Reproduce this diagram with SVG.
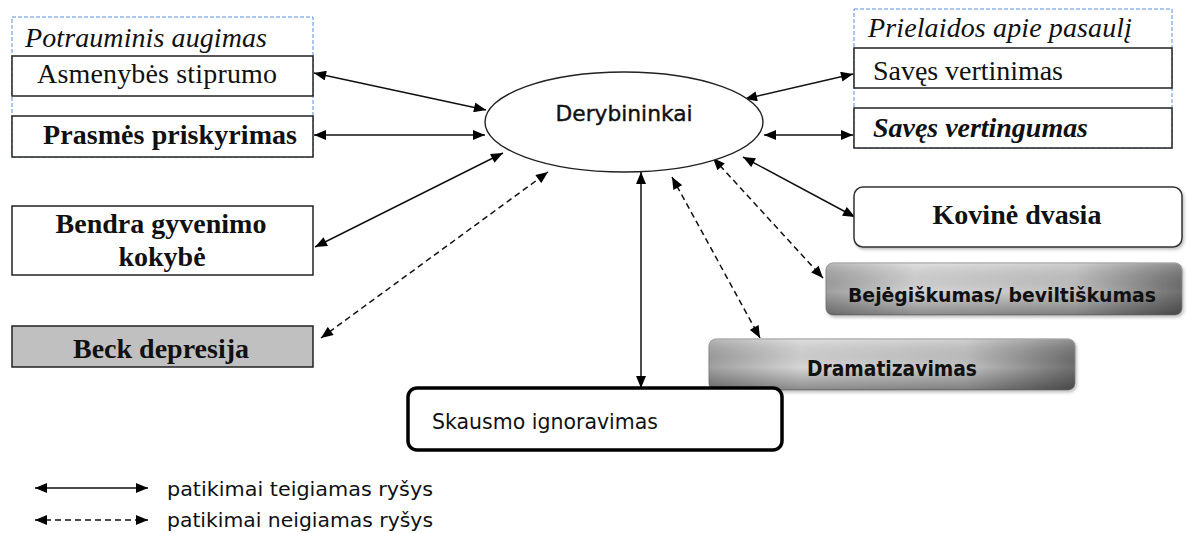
<svg xmlns="http://www.w3.org/2000/svg" width="1187" height="533" viewBox="0 0 1187 533">
  <style>
    .serif { font-family: "Liberation Serif", "Times New Roman", serif; fill: #111; font-size: 28px; }
    .sans { font-family: "DejaVu Sans", Verdana, sans-serif; fill: #111; }
    .box { fill: #fff; stroke: #222; stroke-width: 1.5; }
    .group { fill: none; stroke: #5a8fe0; stroke-width: 1; stroke-dasharray: 4 2; }
    .solid { fill: none; stroke: #111; stroke-width: 1.5; marker-start: url(#tip); marker-end: url(#tip); }
    .dashed { fill: none; stroke: #111; stroke-width: 1.5; stroke-dasharray: 6 4; marker-start: url(#tip); marker-end: url(#tip); }
  </style>
  <defs>
    <marker id="tip" viewBox="0 0 12 10" refX="12" refY="5" markerWidth="13" markerHeight="10" markerUnits="userSpaceOnUse" orient="auto-start-reverse">
      <path d="M0,0 L12,5 L0,10 z" fill="#000"/>
    </marker>
    <linearGradient id="metal" x1="0" y1="0" x2="1" y2="0">
      <stop offset="0" stop-color="#a0a0a0"/>
      <stop offset="0.25" stop-color="#d6d6d6"/>
      <stop offset="0.7" stop-color="#c2c2c2"/>
      <stop offset="1" stop-color="#6e6e6e"/>
    </linearGradient>
    <linearGradient id="shade" x1="0" y1="0" x2="0" y2="1">
      <stop offset="0" stop-color="#fff" stop-opacity="0.25"/>
      <stop offset="0.55" stop-color="#000" stop-opacity="0"/>
      <stop offset="1" stop-color="#000" stop-opacity="0.35"/>
    </linearGradient>
    <filter id="soft" x="-5%" y="-10%" width="115%" height="130%">
      <feDropShadow dx="1.5" dy="2" stdDeviation="1.5" flood-color="#000" flood-opacity="0.25"/>
    </filter>
  </defs>

  <!-- group frames -->
  <rect class="group" x="12" y="17" width="301" height="140"/>
  <rect class="group" x="854" y="9" width="318" height="139"/>
  <text class="serif" x="25" y="47" font-style="italic" textLength="242" lengthAdjust="spacing">Potrauminis augimas</text>
  <text class="serif" x="868" y="37" font-style="italic" textLength="264" lengthAdjust="spacing">Prielaidos apie pasaulį</text>

  <!-- connectors -->
  <g id="connectors">
    <path class="solid" d="M314,73 L486,110"/>
    <path class="solid" d="M314,135 L485,135" stroke-width="2.2"/>
    <path class="solid" d="M315,247 L503,153"/>
    <path class="dashed" d="M321,338 L548,172"/>
    <path class="solid" d="M745,99 L853,74"/>
    <path class="solid" d="M764,135 L853,135"/>
    <path class="solid" d="M743,157 L855,217"/>
    <path class="dashed" d="M713,158 L823,278"/>
    <path class="dashed" d="M672,177 L760,338"/>
    <path class="solid" d="M641,172 L641,388"/>
  </g>

  <g id="center">
    <ellipse cx="624" cy="122" rx="139" ry="50" fill="#fff" stroke="#222" stroke-width="1.4"/>
    <text class="sans" x="624" y="121" font-size="21" text-anchor="middle" stroke="#111" stroke-width="0.4" textLength="137" lengthAdjust="spacingAndGlyphs">Derybininkai</text>
  </g>

  <g id="asmenybes">
    <rect class="box" x="12" y="56" width="301" height="40"/>
    <text class="serif" x="37" y="83" textLength="240" lengthAdjust="spacing">Asmenybės stiprumo</text>
  </g>
  <g id="prasmes">
    <rect class="box" x="12" y="116" width="301" height="41"/>
    <text class="serif" x="43" y="144" font-weight="bold" textLength="254" lengthAdjust="spacing">Prasmės priskyrimas</text>
  </g>
  <g id="bendra">
    <rect class="box" x="12" y="206" width="301" height="69"/>
    <text class="serif" x="161" y="233" font-weight="bold" text-anchor="middle">Bendra gyvenimo</text>
    <text class="serif" x="162" y="266" font-weight="bold" text-anchor="middle">kokybė</text>
  </g>
  <g id="beck">
    <rect x="12" y="326" width="301" height="41" fill="#c0c0c0" stroke="#222" stroke-width="1.5"/>
    <text class="serif" x="161" y="358" font-weight="bold" text-anchor="middle">Beck depresija</text>
  </g>

  <g id="saves-vertinimas">
    <rect class="box" x="854" y="48" width="318" height="40"/>
    <text class="serif" x="873" y="80" textLength="190" lengthAdjust="spacing">Savęs vertinimas</text>
  </g>
  <g id="saves-vertingumas">
    <rect class="box" x="854" y="108" width="318" height="40"/>
    <text class="serif" x="873" y="137" font-weight="bold" font-style="italic" textLength="215" lengthAdjust="spacing">Savęs vertingumas</text>
  </g>
  <g id="kovine">
    <rect x="854" y="187" width="328" height="60" rx="9" fill="#fff" stroke="#333" stroke-width="1.5" filter="url(#soft)"/>
    <text class="serif" x="1017" y="224" font-weight="bold" text-anchor="middle">Kovinė dvasia</text>
  </g>
  <g id="bejegiskumas">
    <rect x="826" y="263" width="356" height="52" rx="7" fill="url(#metal)" stroke="#888" stroke-width="1" filter="url(#soft)"/>
    <rect x="826" y="263" width="356" height="52" rx="7" fill="url(#shade)"/>
    <text class="sans" x="1002" y="302" font-size="20" font-weight="bold" text-anchor="middle" textLength="308" lengthAdjust="spacingAndGlyphs">Bejėgiškumas/ beviltiškumas</text>
  </g>
  <g id="dramatizavimas">
    <rect x="709" y="339" width="366" height="51" rx="7" fill="url(#metal)" stroke="#888" stroke-width="1" filter="url(#soft)"/>
    <rect x="709" y="339" width="366" height="51" rx="7" fill="url(#shade)"/>
    <text class="sans" x="892" y="376" font-size="21" font-weight="bold" text-anchor="middle" textLength="170" lengthAdjust="spacingAndGlyphs">Dramatizavimas</text>
  </g>
  <g id="skausmo">
    <rect x="408" y="388" width="374" height="62" rx="9" fill="#fff" stroke="#000" stroke-width="3.5"/>
    <text class="sans" x="432" y="429" font-size="21" textLength="226" lengthAdjust="spacingAndGlyphs">Skausmo ignoravimas</text>
  </g>

  <!-- legend -->
  <g id="legend">
    <path class="solid" d="M35,488 L148,488"/>
    <text class="sans" x="167" y="496" font-size="20" textLength="266" lengthAdjust="spacingAndGlyphs">patikimai teigiamas ryšys</text>
    <path class="dashed" d="M35,520 L148,520" stroke-dasharray="5 4"/>
    <text class="sans" x="167" y="527" font-size="20" textLength="266" lengthAdjust="spacingAndGlyphs">patikimai neigiamas ryšys</text>
  </g>
</svg>
